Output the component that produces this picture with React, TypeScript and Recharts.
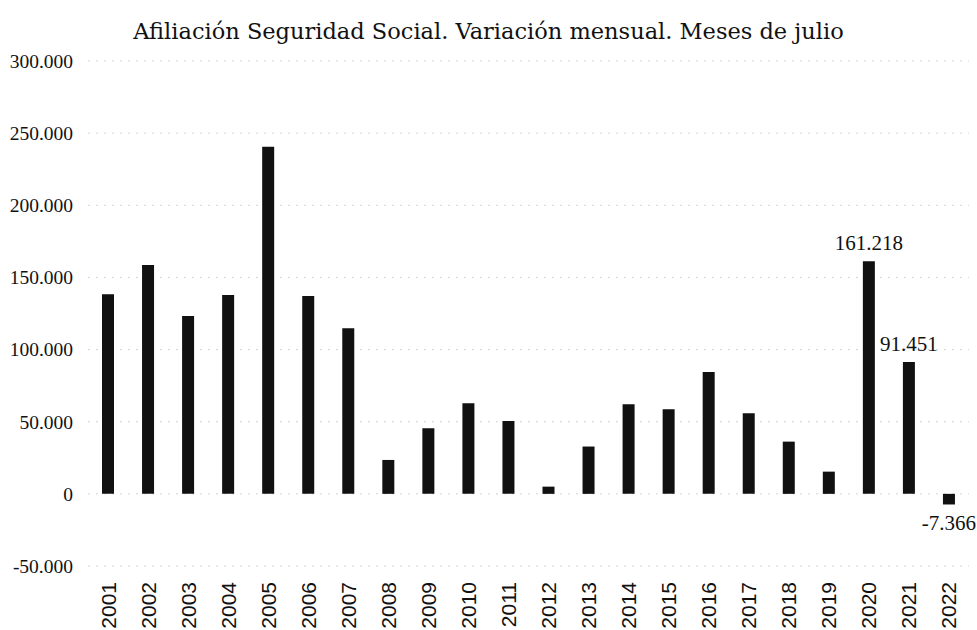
import { BarChart, Bar, XAxis, YAxis, CartesianGrid, LabelList } from 'recharts';

const years = ['2001', '2002', '2003', '2004', '2005', '2006', '2007', '2008', '2009', '2010', '2011',
  '2012', '2013', '2014', '2015', '2016', '2017', '2018', '2019', '2020', '2021', '2022'];
const altas = [138300, 158600, 123300, 137800, 240500, 137100, 114700, 23500, 45500, 62800, 50500,
  5000, 32800, 62100, 58700, 84500, 55900, 36200, 15400, 161218, 91451, -7366];
const labeledYears = ['2020', '2021', '2022'];
const yTicks = [-50000, 0, 50000, 100000, 150000, 200000, 250000, 300000];

const title = 'Afiliación Seguridad Social. Variación mensual. Meses de julio';

const fmt = (n: number) => (n < 0 ? '-' : '') + String(Math.abs(n)).replace(/\B(?=(\d{3})+(?!\d))/g, '.');

const data = years.map((year, i) => ({
  year,
  value: altas[i],
  label: labeledYears.includes(year) ? altas[i] : null,
}));

const SERIF = '"Liberation Serif", "DejaVu Serif", serif';
const TITLE_FONT = '"DejaVu Serif", "Liberation Serif", serif';
const SANS = '"Liberation Sans", Arial, sans-serif';

function YearTick({ x, y, payload }: any) {
  return (
    <text x={x} y={y} transform={`rotate(-90 ${x} ${y})`} textAnchor="end" dominantBaseline="central"
      fontFamily={SANS} fontSize={21} fill="#111">
      {payload.value}
    </text>
  );
}

export default function App() {
  return (
    <div style={{ position: 'absolute', left: 0, top: 0, width: 977, height: 630, background: '#fff' }}>
      <div style={{ position: 'absolute', top: 17, left: 0, width: 977, textAlign: 'center',
        fontFamily: TITLE_FONT, fontSize: 22.5, color: '#111', lineHeight: '28px' }}>
        {title}
      </div>
      <BarChart width={977} height={630} data={data} margin={{ top: 61, right: 8, left: 0, bottom: 0 }}>
        <CartesianGrid vertical={false} stroke="#d4d4d4" strokeDasharray="2 6" />
        <XAxis dataKey="year" axisLine={false} tickLine={false} height={64} interval={0}
          tick={<YearTick />} tickMargin={10} />
        <YAxis domain={[-50000, 300000]} ticks={yTicks} axisLine={false} tickLine={false} width={88}
          tickMargin={9} tickFormatter={fmt} interval={0}
          tick={{ fontFamily: SERIF, fontSize: 19.5, fill: '#111' }} />
        <Bar dataKey="value" fill="#111" barSize={12} isAnimationActive={false}>
          <LabelList dataKey="label" position="top" offset={11} formatter={(v: any) => (v == null ? '' : fmt(v))}
            style={{ fontFamily: SERIF, fontSize: 21, fill: '#111' }} />
        </Bar>
      </BarChart>
    </div>
  );
}
